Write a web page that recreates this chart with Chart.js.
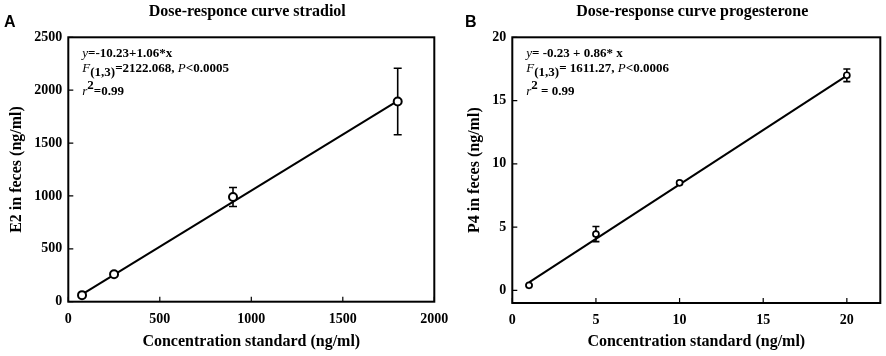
<!DOCTYPE html>
<html>
<head>
<meta charset="utf-8">
<script src="https://cdn.jsdelivr.net/npm/chart.js@4/dist/chart.umd.min.js"></script>
<style>
  body { margin: 0; background: #fff; }
  #wrap { position: relative; width: 886px; height: 356px; overflow: hidden; }
  canvas { position: absolute; top: 0; }
  #chartA { left: 0; }
  #chartB { left: 443px; }
</style>
</head>
<body>
<div id="wrap">
  <canvas id="chartA" width="470" height="356"></canvas>
  <canvas id="chartB" width="443" height="356"></canvas>
</div>
<script>
// Panel A - estradiol
var concA = [75, 250, 900, 1800];
var e2Mean = [62, 260, 990, 1893];
var e2Err = [10, 15, 90, 315];
var fitAx = [75, 1800];
var fitAy = [69, 1898];
var ticksAx = [0, 500, 1000, 1500, 2000];
var ticksAy = [0, 500, 1000, 1500, 2000, 2500];

// Panel B - progesterone
var concB = [1, 5, 10, 20];
var p4Mean = [0.4, 4.45, 8.5, 17.0];
var p4Err = [0.05, 0.6, 0.1, 0.5];
var fitBx = [1, 20];
var fitBy = [0.63, 16.97];
var ticksBx = [0, 5, 10, 15, 20];
var ticksBy = [0, 5, 10, 15, 20];

// stats text, [text, style]
var statsA = [
  [['y', 'i'], ['=-10.23+1.06*x', '']],
  [['F', 'i'], ['(1,3)', 'sub'], ['=2122.068, ', ''], ['P', 'i'], ['<0.0005', '']],
  [['r', 'i'], ['2', 'sup'], ['=0.99', '']]
];
var statsB = [
  [['y', 'i'], ['= -0.23 + 0.86* x', '']],
  [['F', 'i'], ['(1,3)', 'sub'], ['= 1611.27, ', ''], ['P', 'i'], ['<0.0006', '']],
  [['r', 'i'], ['2', 'sup'], [' = 0.99', '']]
];

var SERIF = "'Liberation Serif', 'Times New Roman', serif";

function pts(xs, ys) {
  return xs.map(function (x, i) { return { x: x, y: ys[i] }; });
}

function plain(v) { return String(v); }

function drawStats(ctx, lines, x0, baselines) {
  lines.forEach(function (segs, li) {
    var x = x0;
    segs.forEach(function (s) {
      var dy = 0, font = 'bold ';
      if (s[1] === 'i') font = 'italic ';
      if (s[1] === 'sub') dy = 4;
      if (s[1] === 'sup') dy = -6;
      ctx.font = font + '13px ' + SERIF;
      ctx.fillStyle = '#000';
      ctx.textAlign = 'left';
      ctx.textBaseline = 'alphabetic';
      ctx.fillText(s[0], x, baselines[li] + dy);
      x += ctx.measureText(s[0]).width;
    });
  });
}

function makePanel(id, cfg) {
  var decor = {
    id: 'decor_' + id,
    beforeDatasetsDraw: function (chart) {
      var ctx = chart.ctx, xs = chart.scales.x, ys = chart.scales.y;
      ctx.save();
      ctx.strokeStyle = '#000';
      ctx.lineWidth = 1.6;
      cfg.xs.forEach(function (xv, i) {
        var px = xs.getPixelForValue(xv);
        var top = ys.getPixelForValue(cfg.ys[i] + cfg.err[i]);
        var bot = ys.getPixelForValue(cfg.ys[i] - cfg.err[i]);
        ctx.beginPath();
        ctx.moveTo(px, top); ctx.lineTo(px, bot);
        ctx.moveTo(px - cfg.cap, top); ctx.lineTo(px + cfg.cap, top);
        ctx.moveTo(px - cfg.cap, bot); ctx.lineTo(px + cfg.cap, bot);
        ctx.stroke();
      });
      ctx.restore();
    },
    afterDraw: function (chart) {
      var ctx = chart.ctx, a = chart.chartArea, xs = chart.scales.x, ys = chart.scales.y;
      ctx.save();
      ctx.strokeStyle = '#000';
      ctx.lineWidth = 2;
      ctx.strokeRect(a.left, a.top, a.right - a.left, a.bottom - a.top);
      ctx.lineWidth = 1.2;
      ctx.beginPath();
      cfg.ticksX.forEach(function (v) {
        var px = xs.getPixelForValue(v);
        ctx.moveTo(px, a.bottom); ctx.lineTo(px, a.bottom - 5);
      });
      cfg.ticksY.forEach(function (v) {
        var py = ys.getPixelForValue(v);
        ctx.moveTo(a.left, py); ctx.lineTo(a.left + 5, py);
      });
      ctx.stroke();
      // title
      ctx.fillStyle = '#000';
      ctx.font = 'bold 16px ' + SERIF;
      ctx.textAlign = 'center';
      ctx.textBaseline = 'alphabetic';
      ctx.fillText(cfg.title, (a.left + a.right) / 2 - 4, 16);
      // panel letter
      ctx.font = "bold 16px 'Liberation Sans', Arial, sans-serif";
      ctx.textAlign = 'left';
      ctx.fillText(cfg.letter, cfg.letterX, 27);
      drawStats(ctx, cfg.stats, a.left + 14, [57, 72, 95]);
      ctx.restore();
    }
  };

  return new Chart(document.getElementById(id).getContext('2d'), {
    type: 'scatter',
    data: {
      datasets: [{
        label: 'mean',
        data: pts(cfg.xs, cfg.ys),
        showLine: false,
        pointStyle: 'circle',
        pointRadius: cfg.r,
        pointBorderWidth: cfg.bw,
        pointBackgroundColor: '#fff',
        pointBorderColor: '#000'
      }, {
        label: 'fit',
        data: pts(cfg.fitX, cfg.fitY),
        showLine: true,
        borderColor: '#000',
        borderWidth: 2,
        pointRadius: 0
      }]
    },
    options: {
      responsive: false,
      animation: false,
      layout: { padding: { left: cfg.padLeft, top: 37.3, right: cfg.padRight, bottom: 0 } },
      plugins: { legend: { display: false }, tooltip: { enabled: false } },
      scales: {
        x: {
          type: 'linear',
          min: cfg.xMin, max: cfg.xMax,
          grid: { display: false, drawTicks: false },
          border: { display: false },
          afterBuildTicks: function (s) { s.ticks = cfg.ticksX.map(function (v) { return { value: v }; }); },
          afterFit: function (s) { s.height = cfg.xAxisH; },
          ticks: { padding: 9, color: '#000', callback: plain,
                   font: { family: SERIF, size: 14, weight: 'bold' } },
          title: { display: true, text: 'Concentration standard (ng/ml)', color: '#000',
                   font: { family: SERIF, size: 16, weight: 'bold' }, padding: { top: 0, bottom: 5 } }
        },
        y: {
          type: 'linear',
          min: cfg.yMin, max: cfg.yMax,
          grid: { display: false, drawTicks: false },
          border: { display: false },
          afterBuildTicks: function (s) { s.ticks = cfg.ticksY.map(function (v) { return { value: v }; }); },
          afterFit: function (s) { s.width = cfg.yAxisW; },
          ticks: { padding: 6, color: '#000', callback: plain,
                   font: { family: SERIF, size: 14, weight: 'bold' } },
          title: { display: true, text: cfg.yTitle, color: '#000',
                   font: { family: SERIF, size: 16, weight: 'bold' }, padding: { top: cfg.yTitlePad, bottom: 0 } }
        }
      }
    },
    plugins: [decor]
  });
}

makePanel('chartA', {
  xs: concA, ys: e2Mean, err: e2Err, fitX: fitAx, fitY: fitAy,
  ticksX: ticksAx, ticksY: ticksAy,
  xMin: 0, xMax: 2000, yMin: 0, yMax: 2500,
  r: 4, bw: 2, cap: 4,
  padLeft: 0, padRight: 35.7, xAxisH: 54.3, yAxisW: 68.3, yTitlePad: 7,
  yTitle: 'E2 in feces (ng/ml)', title: 'Dose-responce curve stradiol',
  letter: 'A', letterX: 4, stats: statsA
});

makePanel('chartB', {
  xs: concB, ys: p4Mean, err: p4Err, fitX: fitBx, fitY: fitBy,
  ticksX: ticksBx, ticksY: ticksBy,
  xMin: 0, xMax: 22, yMin: -1, yMax: 20,
  r: 3, bw: 1.7, cap: 3.5,
  padLeft: 0, padRight: 5.3, xAxisH: 53, yAxisW: 69.3, yTitlePad: 22,
  yTitle: 'P4 in feces (ng/ml)', title: 'Dose-response curve progesterone',
  letter: 'B', letterX: 22, stats: statsB
});
</script>
</body>
</html>
